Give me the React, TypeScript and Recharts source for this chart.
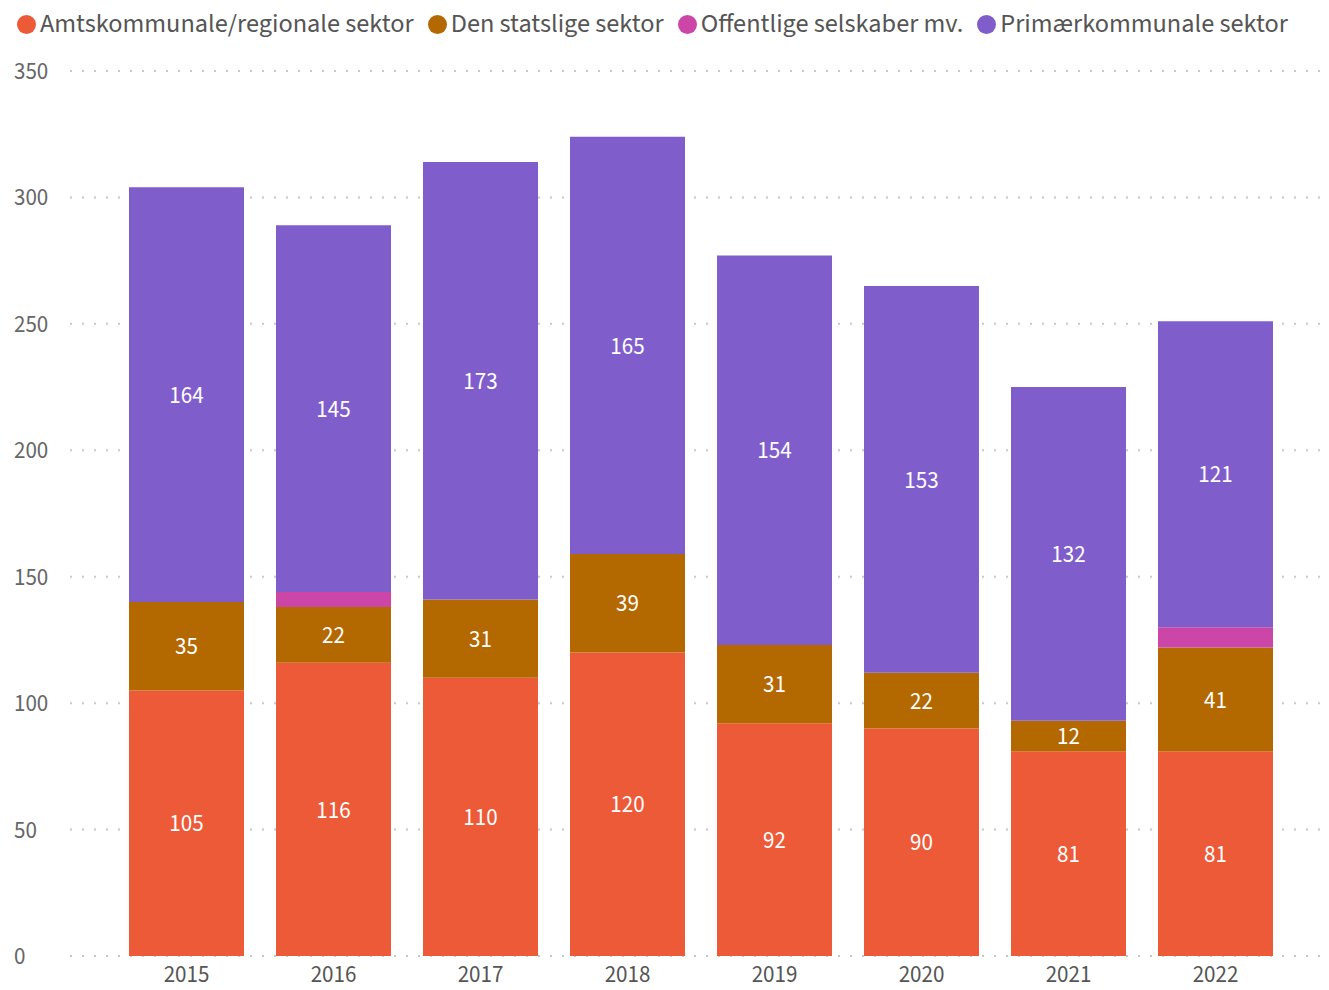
import React from "react";
import { BarChart, Bar, XAxis, YAxis, CartesianGrid, LabelList } from "recharts";

const years = ["2015", "2016", "2017", "2018", "2019", "2020", "2021", "2022"];
const amt = [105, 116, 110, 120, 92, 90, 81, 81];
const stat = [35, 22, 31, 39, 31, 22, 12, 41];
const off = [0, 6, 0, 0, 0, 0, 0, 8];
const prim = [164, 145, 173, 165, 154, 153, 132, 121];
const yTicks = [0, 50, 100, 150, 200, 250, 300, 350];

const seriesNames = ["Amtskommunale/regionale sektor", "Den statslige sektor", "Offentlige selskaber mv.", "Primærkommunale sektor"];
const colors = ["#EC5A38", "#B36800", "#CC46A8", "#7F5ECC"];

const data = years.map((y, i) => ({ year: y, amt: amt[i], stat: stat[i], off: off[i], prim: prim[i] }));

const FONT = "'Source Sans Pro', 'Source Sans 3', Lato, sans-serif";

const LegendBox = () => (
  <div style={{ position: "absolute", top: 1, left: 9, width: 1320, display: "flex", flexWrap: "nowrap", whiteSpace: "nowrap", alignItems: "center", fontFamily: FONT, fontSize: 26.3, color: "#555", lineHeight: "30px" }}>
    {seriesNames.map((n, i) => (
      <div key={n} style={{ display: "flex", alignItems: "center", marginRight: 14, flexShrink: 0 }}>
        <span style={{ width: 19, height: 19, borderRadius: 10, background: colors[i], display: "inline-block", marginRight: 4, flexShrink: 0 }} />
        <span>{n}</span>
      </div>
    ))}
  </div>
);

const YTick = (props: any) => {
  const { y, payload } = props;
  return (
    <text x={6} y={y} dy={8} textAnchor="start" fill="#666" fontSize={23} fontFamily={FONT}>
      {payload.value}
    </text>
  );
};

export default function App() {
  return (
    <div style={{ width: 1313, height: 982, position: "relative" }}>
      <LegendBox />
      <BarChart width={1313} height={982} data={data} margin={{ top: 63, right: 1, left: 0, bottom: 0 }} barSize={115}>
        <CartesianGrid vertical={false} stroke="#c8c8c8" strokeWidth={2} strokeDasharray="2 10" />
        <XAxis
          dataKey="year"
          axisLine={false}
          tickLine={false}
          padding={{ left: 43, right: 31 }}
          height={34}
          tick={{ fill: "#555", fontSize: 23, fontFamily: FONT }}
          dy={2}
        />
        <YAxis
          domain={[0, 350]}
          ticks={yTicks}
          axisLine={false}
          tickLine={false}
          width={62}
          tick={<YTick />}
        />
        <Bar dataKey="amt" stackId="a" fill={colors[0]} isAnimationActive={false}>
          <LabelList dataKey="amt" position="center" fill="#fff" fontSize={23} fontFamily={FONT} />
        </Bar>
        <Bar dataKey="stat" stackId="a" fill={colors[1]} isAnimationActive={false}>
          <LabelList dataKey="stat" position="center" fill="#fff" fontSize={23} fontFamily={FONT} />
        </Bar>
        <Bar dataKey="off" stackId="a" fill={colors[2]} isAnimationActive={false} />
        <Bar dataKey="prim" stackId="a" fill={colors[3]} isAnimationActive={false}>
          <LabelList dataKey="prim" position="center" fill="#fff" fontSize={23} fontFamily={FONT} />
        </Bar>
      </BarChart>
    </div>
  );
}
